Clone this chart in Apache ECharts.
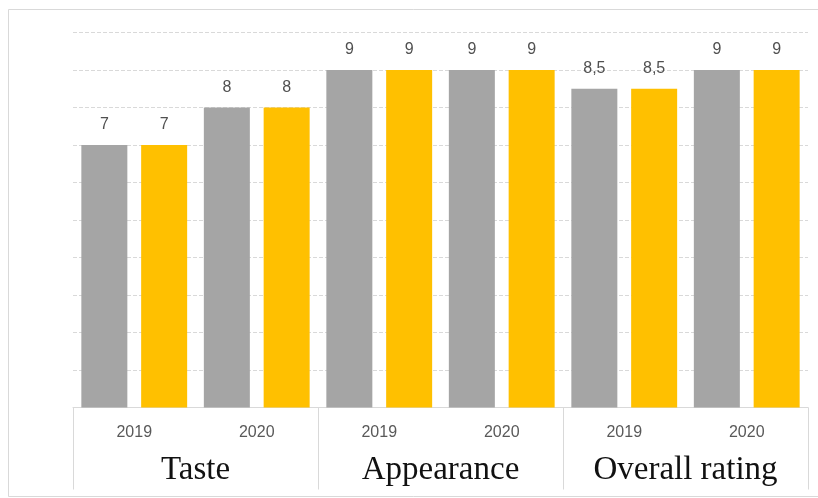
<!DOCTYPE html>
<html>
<head>
<meta charset="utf-8">
<script src="https://cdn.jsdelivr.net/npm/echarts@6/dist/echarts.min.js"></script>
<style>
  html, body { margin: 0; padding: 0; background: #fff; }
  #chart { width: 818px; height: 498px; }
</style>
</head>
<body>
<div id="chart"></div>
<script>
// data
var years = ['2019', '2020', '2019', '2020', '2019', '2020']
var groups = ['Taste', 'Appearance', 'Overall rating']
var grayValues = [7, 8, 9, 9, 8.5, 9]
var yellowValues = [7, 8, 9, 9, 8.5, 9]

var chartDom = document.getElementById('chart')
var myChart = echarts.init(chartDom, null, { renderer: 'canvas' })

function commaLabel(p) {
  return String(p.value).replace('.', ',')
}

var labelOption = {
  show: true,
  position: 'top',
  distance: 12,
  fontSize: 16,
  color: '#505050',
  fontFamily: 'Liberation Sans, sans-serif',
  formatter: commaLabel
}

var option = {
  animation: false,
  backgroundColor: '#fff',
  graphic: [
    {
      // outer frame, right side runs past the window
      type: 'rect',
      shape: { x: 8.5, y: 9.5, width: 820, height: 487 },
      style: { fill: 'none', stroke: '#d9d9d9', lineWidth: 1 },
      silent: true
    }
  ],
  grid: {
    left: 73,
    right: 10,
    top: 32.5,
    bottom: 90.5
  },
  xAxis: [
    {
      type: 'category',
      data: years,
      axisTick: { show: false },
      axisLine: { lineStyle: { color: '#d9d9d9' } },
      axisLabel: {
        margin: 17,
        fontSize: 16,
        color: '#595959',
        fontFamily: 'Liberation Sans, sans-serif'
      }
    },
    {
      type: 'category',
      data: groups,
      position: 'bottom',
      axisLine: { show: false },
      axisTick: {
        show: true,
        length: 82,
        lineStyle: { color: '#d9d9d9' }
      },
      axisLabel: {
        margin: 46,
        fontSize: 33,
        color: '#111',
        fontFamily: 'Liberation Serif, serif'
      }
    }
  ],
  yAxis: {
    type: 'value',
    min: 0,
    max: 10,
    interval: 1,
    axisLabel: { show: false },
    axisLine: { show: false },
    axisTick: { show: false },
    splitLine: {
      lineStyle: { color: '#d9d9d9', type: 'dashed' }
    }
  },
  series: [
    {
      name: 'gray',
      type: 'bar',
      barWidth: 46,
      barGap: '30%',
      itemStyle: { color: '#a5a5a5' },
      label: labelOption,
      data: grayValues
    },
    {
      name: 'yellow',
      type: 'bar',
      barWidth: 46,
      barGap: '30%',
      itemStyle: { color: '#ffc000' },
      label: labelOption,
      data: yellowValues
    }
  ]
}

option && myChart.setOption(option)
</script>
</body>
</html>
